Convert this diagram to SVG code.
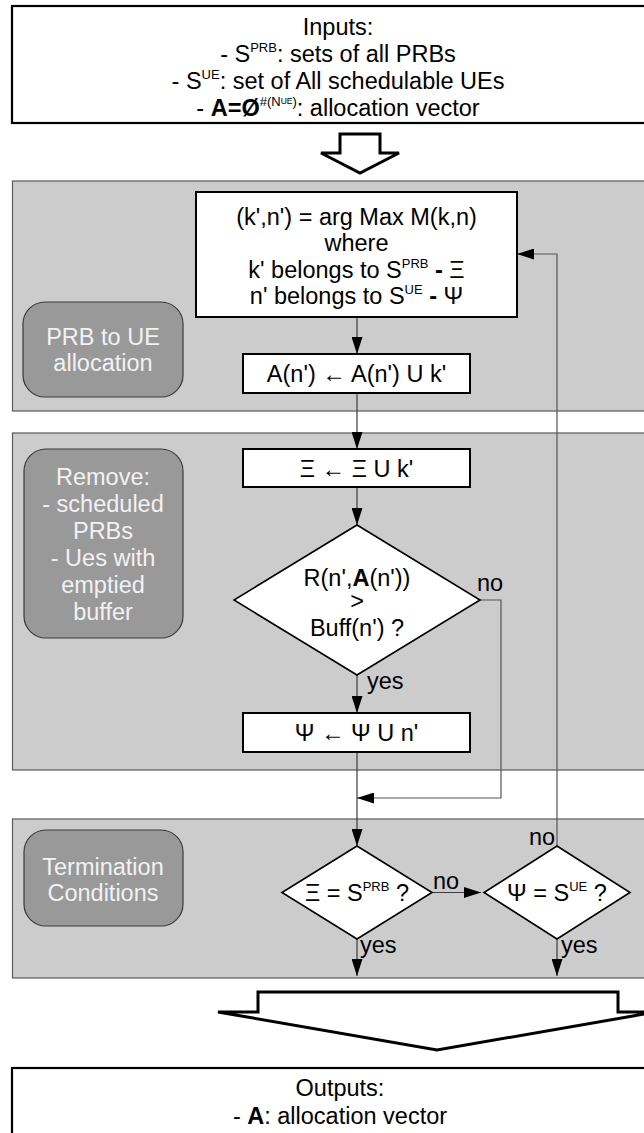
<svg xmlns="http://www.w3.org/2000/svg" width="644" height="1133" viewBox="0 0 644 1133">
  <defs>
    <style>
      text { font-family: "Liberation Sans", Arial, sans-serif; font-size: 23.5px; fill: #000; }
      .c { text-anchor: middle; }
      .lbl { fill: #f2f2f2; text-anchor: middle; }
      .panel { fill: #cccccc; stroke: #5a5a5a; stroke-width: 1.2; }
      .box { fill: #fff; stroke: #000; stroke-width: 2; }
      .dia { fill: #fff; stroke: #000; stroke-width: 1.6; }
      .tag { fill: #999999; stroke: #3a3a3a; stroke-width: 1.2; }
      .io { fill: #fff; stroke: #000; stroke-width: 2.2; }
      .big { fill: #fff; stroke: #000; stroke-width: 3; stroke-linejoin: miter; }
      .wire { fill: none; stroke: #3c3c3c; stroke-width: 1.2; }
      .loop { fill: none; stroke: #555; stroke-width: 1.2; }
      .sup { font-size: 13px; }
      .sup2 { font-size: 8.5px; }
      .bold { font-weight: bold; }
    </style>
    <marker id="head" markerUnits="userSpaceOnUse" markerWidth="17" markerHeight="11" refX="17" refY="5.5" orient="auto">
      <path d="M0,0 L17,5.5 L0,11 z" fill="#000"/>
    </marker>
  </defs>

  <!-- input block -->
  <g id="inputs">
    <rect class="io" x="12" y="6" width="680" height="117"/>
    <text class="c" x="338" y="35">Inputs:</text>
    <text class="c" x="338" y="62">- S<tspan class="sup" dy="-10">PRB</tspan><tspan dy="10">: sets of all PRBs</tspan></text>
    <text class="c" x="338" y="89">- S<tspan class="sup" dy="-10">UE</tspan><tspan dy="10">: set of All schedulable UEs</tspan></text>
    <text class="c" x="338" y="116">- <tspan class="bold">A=Ø</tspan><tspan class="sup" dy="-10">#(N</tspan><tspan class="sup2" dy="-2">UE</tspan><tspan class="sup" dy="2">)</tspan><tspan dy="10">: allocation vector</tspan></text>
  </g>

  <g id="arrow-in">
    <path class="big" d="M340,134 L380,134 L380,153 L399,153 L360,173 L321,153 L340,153 z"/>
  </g>

  <!-- stage panels -->
  <g id="panel-allocation">
    <rect class="panel" x="12.5" y="181" width="680" height="230"/>
  </g>
  <g id="panel-remove">
    <rect class="panel" x="12.5" y="433" width="680" height="337"/>
  </g>
  <g id="panel-termination">
    <rect class="panel" x="12.5" y="819" width="680" height="159"/>
  </g>

  <g id="tag-allocation">
    <rect class="tag" x="23" y="302" width="160" height="95" rx="22"/>
    <text class="lbl" x="103" y="345">PRB to UE</text>
    <text class="lbl" x="103" y="371">allocation</text>
  </g>
  <g id="tag-remove">
    <rect class="tag" x="24" y="449" width="159" height="189" rx="22"/>
    <text class="lbl" x="103" y="485">Remove:</text>
    <text class="lbl" x="103" y="512">- scheduled</text>
    <text class="lbl" x="103" y="539">PRBs</text>
    <text class="lbl" x="103" y="566">- Ues with</text>
    <text class="lbl" x="103" y="593">emptied</text>
    <text class="lbl" x="103" y="620">buffer</text>
  </g>
  <g id="tag-termination">
    <rect class="tag" x="24" y="830" width="159" height="96" rx="22"/>
    <text class="lbl" x="103" y="875">Termination</text>
    <text class="lbl" x="103" y="901">Conditions</text>
  </g>

  <!-- connectors -->
  <g id="connectors">
    <path class="wire" d="M357,317 L357,354" marker-end="url(#head)"/>
    <path class="wire" d="M357,393 L357,449" marker-end="url(#head)"/>
    <path class="wire" d="M357,487 L357,525" marker-end="url(#head)"/>
    <path class="wire" d="M357,675 L357,713" marker-end="url(#head)"/>
    <path class="loop" d="M480,600 L501,600 L501,798 L357,798" marker-end="url(#head)"/>
    <path class="wire" d="M357,752 L357,846" marker-end="url(#head)"/>
    <path class="wire" d="M432,892.5 L481,892.5" marker-end="url(#head)"/>
    <path class="loop" d="M557,846 L557,254 L517,254" marker-end="url(#head)"/>
    <path class="wire" d="M357,939 L357,976" marker-end="url(#head)"/>
    <path class="wire" d="M557,939 L557,976" marker-end="url(#head)"/>
    <text x="477" y="591">no</text>
    <text x="367" y="689">yes</text>
    <text x="433" y="889">no</text>
    <text x="529" y="845">no</text>
    <text x="360" y="953">yes</text>
    <text x="561" y="953">yes</text>
  </g>

  <g id="select-max">
    <rect class="box" x="196" y="192" width="321" height="125"/>
    <text class="c" x="356.5" y="225">(k',n') = arg Max M(k,n)</text>
    <text class="c" x="356.5" y="251">where</text>
    <text class="c" x="356.5" y="278">k' belongs to S<tspan class="sup" dy="-10">PRB</tspan><tspan dy="10"> </tspan><tspan class="bold">-</tspan> Ξ</text>
    <text class="c" x="356.5" y="304">n' belongs to S<tspan class="sup" dy="-10">UE</tspan><tspan dy="10"> </tspan><tspan class="bold">-</tspan> Ψ</text>
  </g>

  <g id="assign">
    <rect class="box" x="243" y="354" width="227" height="39"/>
    <text class="c" x="356.5" y="382">A(n') ← A(n') U k'</text>
  </g>

  <g id="mark-prb">
    <rect class="box" x="243" y="449" width="227" height="38"/>
    <text class="c" x="356.5" y="477">Ξ ← Ξ U k'</text>
  </g>

  <g id="buffer-check">
    <polygon class="dia" points="357,525 480,600 357,675 234,600"/>
    <text class="c" x="357" y="586">R(n',<tspan class="bold">A</tspan>(n'))</text>
    <text class="c" x="357" y="609">&gt;</text>
    <text class="c" x="357" y="636">Buff(n') ?</text>
  </g>

  <g id="mark-ue">
    <rect class="box" x="243" y="713" width="227" height="39"/>
    <text class="c" x="356.5" y="741">Ψ ← Ψ U n'</text>
  </g>

  <g id="prb-done">
    <polygon class="dia" points="357,846 432,892.5 357,939 282,892.5"/>
    <text class="c" x="357" y="901">Ξ = S<tspan class="sup" dy="-10">PRB</tspan><tspan dy="10"> ?</tspan></text>
  </g>

  <g id="ue-done">
    <polygon class="dia" points="557,846 630,892.5 557,939 484,892.5"/>
    <text class="c" x="557" y="901">Ψ = S<tspan class="sup" dy="-10">UE</tspan><tspan dy="10"> ?</tspan></text>
  </g>

  <g id="arrow-out">
    <path class="big" d="M258,992 L618,992 L618,1012 L656,1012 L437,1050 L218,1012 L258,1012 z"/>
  </g>

  <g id="outputs">
    <rect class="io" x="12" y="1068" width="680" height="80"/>
    <text class="c" x="340" y="1096">Outputs:</text>
    <text class="c" x="340" y="1124">- <tspan class="bold">A</tspan>: allocation vector</text>
  </g>
</svg>
